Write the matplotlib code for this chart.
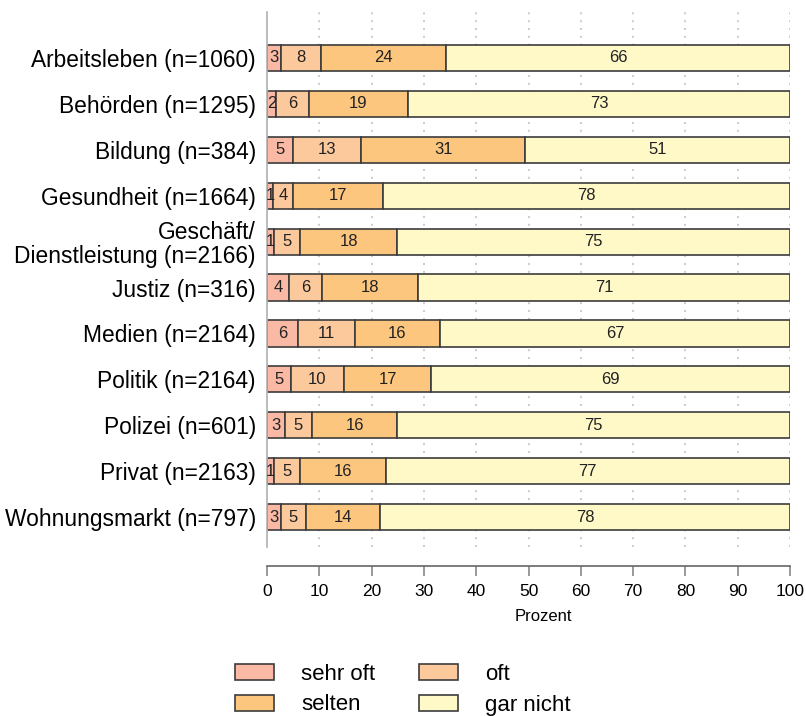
import numpy as np
import matplotlib.pyplot as plt

# categories (top to bottom) and shares in percent
bereiche = ['Arbeitsleben (n=1060)', 'Behörden (n=1295)', 'Bildung (n=384)',
            'Gesundheit (n=1664)', 'Geschäft/\nDienstleistung (n=2166)',
            'Justiz (n=316)', 'Medien (n=2164)', 'Politik (n=2164)',
            'Polizei (n=601)', 'Privat (n=2163)', 'Wohnungsmarkt (n=797)']
sehr_oft = [2.7, 1.7, 5.0, 1.2, 1.4, 4.3, 5.9, 4.6, 3.4, 1.3, 2.6]
oft = [7.6, 6.3, 13.0, 3.8, 5.0, 6.3, 10.9, 10.1, 5.2, 5.0, 4.8]
selten = [23.9, 19.0, 31.4, 17.2, 18.4, 18.3, 16.3, 16.7, 16.3, 16.4, 14.2]
gar_nicht = [65.8, 73.0, 50.6, 77.8, 75.2, 71.1, 66.9, 68.6, 75.1, 77.3, 78.4]

stufen = ['sehr oft', 'oft', 'selten', 'gar nicht']
farben = ['#FAB9A4', '#FCC99C', '#FCC67F', '#FFF9C8']

plt.rcParams['font.family'] = ['Liberation Sans', 'DejaVu Sans']

fig = plt.figure(figsize=(8.06, 7.16), dpi=100)
ax = fig.add_axes([267 / 806, 1 - 547 / 716, 523 / 806, 535 / 716])

y = np.arange(len(bereiche))
links = np.zeros(len(bereiche))
balken = []
for werte, name, farbe in zip([sehr_oft, oft, selten, gar_nicht], stufen, farben):
    werte = np.array(werte)
    b = ax.barh(y, werte, left=links, height=0.57, color=farbe,
                edgecolor='#3c3c3c', linewidth=1.2, label=name, zorder=2)
    balken.append(b)
    for yi, l, w in zip(y, links, werte):
        ax.text(l + w / 2, yi, '%d' % np.floor(w + 0.5), ha='center', va='center',
                fontsize=12, color='#222222', zorder=3, clip_on=False)
    links = links + werte

# dotted grid lines
for gx in range(10, 101, 10):
    ax.axvline(gx, color='#c4c4c4', linestyle=(0, (1.2, 3.5)), linewidth=1.2, zorder=1)

ax.set_xlim(0, 100)
ax.set_ylim(len(bereiche) - 0.35, -1.0)
ax.set_yticks(y)
ax.set_yticklabels(bereiche, fontsize=16.4, linespacing=1.05)
ax.set_xticks(range(0, 101, 10))
ax.tick_params(axis='x', labelsize=12.5, color='#888888', length=7, width=1.2, pad=6)
ax.tick_params(axis='y', length=0, pad=8)

for s in ['top', 'right']:
    ax.spines[s].set_visible(False)
ax.spines['left'].set_color('#b0b0b0')
ax.spines['left'].set_linewidth(1.2)
ax.spines['bottom'].set_position(('outward', 14))
ax.spines['bottom'].set_color('#666666')
ax.spines['bottom'].set_linewidth(1.2)

ax.set_xlabel('Prozent', fontsize=12)
ax.xaxis.set_label_coords(0.528, -0.115)

# legend rows: sehr oft / oft, selten / gar nicht
reihenfolge = [0, 2, 1, 3]
fig.legend([balken[i] for i in reihenfolge], [stufen[i] for i in reihenfolge],
           ncol=2, loc='center', bbox_to_anchor=(0.5, 1 - 689.5 / 716),
           frameon=False, fontsize=16, handlelength=1.75, handleheight=0.75,
           handletextpad=1.2, columnspacing=2.0, labelspacing=0.45)

fig.savefig('out.png', dpi=100)
